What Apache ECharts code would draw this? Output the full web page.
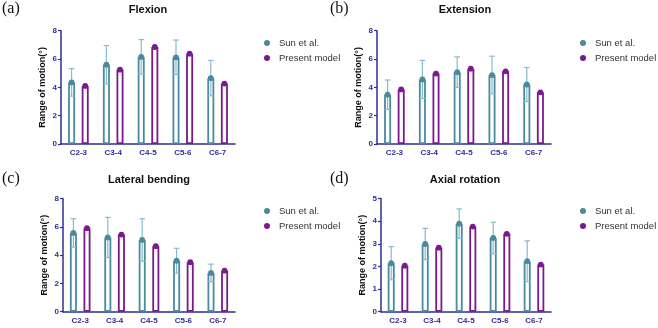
<!DOCTYPE html>
<html>
<head>
<meta charset="utf-8">
<script src="https://cdn.jsdelivr.net/npm/echarts@6/dist/echarts.min.js"></script>
<style>
  html, body { margin: 0; padding: 0; background: #fff; }
  #chart { width: 658px; height: 328px; }
</style>
</head>
<body>
<div id="chart"></div>
<script>
// segments on the x axis
const segments = ["C2-3", "C3-4", "C4-5", "C5-6", "C6-7"];

// (a) flexion
const flexSun = [4.35, 5.6, 6.15, 6.12, 4.65];
const flexSunErr = [0.97, 1.35, 1.22, 1.22, 1.25];
const flexPresent = [4.1, 5.25, 6.85, 6.38, 4.27];

// (b) extension
const extSun = [3.48, 4.56, 5.07, 4.87, 4.2];
const extSunErr = [1.04, 1.34, 1.08, 1.33, 1.2];
const extPresent = [3.85, 4.97, 5.32, 5.13, 3.65];

// (c) lateral bending
const latSun = [5.57, 5.25, 5.07, 3.6, 2.74];
const latSunErr = [1.0, 1.42, 1.5, 0.88, 0.62];
const latPresent = [5.9, 5.45, 4.63, 3.5, 2.9];

// (d) axial rotation
const axSun = [2.14, 2.99, 3.89, 3.26, 2.23];
const axSunErr = [0.73, 0.69, 0.65, 0.69, 0.9];
const axPresent = [2.03, 2.83, 3.76, 3.44, 2.08];

const SUN = "#4a8a9e";
const SUN_ERR = "#86bccb";
const PURPLE = "#7a1a8c";
const NAVY = "#2e2e96";
const BAR_W = 7;
const BAR_GAP = 6.6; // px between the two bars of a pair
const OFF = (BAR_W + BAR_GAP) / 2;

const panels = [
  { tag: "(a)", title: "Flexion", sun: flexSun, err: flexSunErr, pres: flexPresent, max: 8, step: 2,
    grid: { left: 61, top: 30.7, width: 174, height: 113.3 }, tagX: 2, titleX: 148, rowY: 10, legX: 259, legY: 32 },
  { tag: "(b)", title: "Extension", sun: extSun, err: extSunErr, pres: extPresent, max: 8, step: 2,
    grid: { left: 377, top: 30.7, width: 174, height: 113.3 }, tagX: 330, titleX: 465, rowY: 10, legX: 575, legY: 32 },
  { tag: "(c)", title: "Lateral bending", sun: latSun, err: latSunErr, pres: latPresent, max: 8, step: 2,
    grid: { left: 63, top: 198.5, width: 172, height: 113.2 }, tagX: 2, titleX: 149, rowY: 180, legX: 259, legY: 200 },
  { tag: "(d)", title: "Axial rotation", sun: axSun, err: axSunErr, pres: axPresent, max: 5, step: 1,
    grid: { left: 381, top: 198.5, width: 170, height: 113.2 }, tagX: 330, titleX: 465, rowY: 180, legX: 575, legY: 200 }
];

function dotRender(offset, dotColor, withErr) {
  return function (params, api) {
    const i = api.value(0), v = api.value(1), e = api.value(2);
    const c = api.coord([i, v]);
    const x = c[0] + offset;
    const kids = [];
    if (withErr) {
      const top = api.coord([i, v + e])[1];
      const bot = api.coord([i, v - e])[1];
      const ls = { stroke: SUN_ERR, lineWidth: 1.2 };
      kids.push({ type: "line", shape: { x1: x, y1: top, x2: x, y2: bot }, style: ls });
      kids.push({ type: "line", shape: { x1: x - 2.8, y1: top, x2: x + 2.8, y2: top }, style: ls });
      kids.push({ type: "line", shape: { x1: x - 2.8, y1: bot, x2: x + 2.8, y2: bot }, style: ls });
    }
    kids.push({ type: "circle", shape: { cx: x, cy: c[1], r: 2.9 }, style: { fill: dotColor } });
    return { type: "group", children: kids };
  };
}

const grids = [], xAxes = [], yAxes = [], series = [], legends = [], graphics = [];
const labelFont = { color: NAVY, fontWeight: "bold", fontSize: 8, fontFamily: "Liberation Sans" };

panels.forEach((p, k) => {
  grids.push(p.grid);
  xAxes.push({
    type: "category", gridIndex: k, data: segments,
    axisLine: { lineStyle: { color: NAVY, width: 1.5 } },
    axisTick: { alignWithLabel: true, length: 3, lineStyle: { color: NAVY, width: 1.2 } },
    axisLabel: Object.assign({ margin: 5 }, labelFont)
  });
  yAxes.push({
    type: "value", gridIndex: k, min: 0, max: p.max, interval: p.step,
    name: "Range of motion(°)", nameLocation: "middle", nameGap: 14,
    nameTextStyle: { color: "#111", fontWeight: "bold", fontSize: 9, fontFamily: "Liberation Sans" },
    axisLine: { show: true, lineStyle: { color: NAVY, width: 1.5 } },
    axisTick: { show: true, length: 3, lineStyle: { color: NAVY, width: 1.2 } },
    axisLabel: Object.assign({ margin: 4 }, labelFont),
    splitLine: { show: false }
  });
  series.push({
    name: "Sun et al.", type: "bar", xAxisIndex: k, yAxisIndex: k, data: p.sun,
    barWidth: BAR_W, barGap: (BAR_GAP / BAR_W * 100) + "%",
    itemStyle: { color: "#fff", borderColor: SUN, borderWidth: 1.8 }, z: 2
  });
  series.push({
    name: "Present model", type: "bar", xAxisIndex: k, yAxisIndex: k, data: p.pres,
    barWidth: BAR_W,
    itemStyle: { color: "#fff", borderColor: PURPLE, borderWidth: 1.8 }, z: 2
  });
  series.push({
    name: "Sun et al.", type: "custom", xAxisIndex: k, yAxisIndex: k,
    data: p.sun.map((v, i) => [i, v, p.err[i]]), encode: { x: 0, y: 1 },
    renderItem: dotRender(-OFF, SUN, true), z: 3
  });
  series.push({
    name: "Present model", type: "custom", xAxisIndex: k, yAxisIndex: k,
    data: p.pres.map((v, i) => [i, v, 0]), encode: { x: 0, y: 1 },
    renderItem: dotRender(OFF, PURPLE, false), z: 3
  });
  legends.push({
    orient: "vertical", left: p.legX, top: p.legY, icon: "circle",
    itemWidth: 14, itemHeight: 6, itemGap: 3, selectedMode: false,
    textStyle: { color: "#333", fontSize: 9.5, lineHeight: 12, fontFamily: "Liberation Sans" },
    data: [
      { name: "Sun et al.", itemStyle: { color: SUN, borderWidth: 0 } },
      { name: "Present model", itemStyle: { color: PURPLE, borderWidth: 0 } }
    ]
  });
  graphics.push({
    type: "text", left: p.tagX, top: p.rowY - 9,
    style: { text: p.tag, fill: "#111", font: "16px 'Liberation Serif'" }
  });
  graphics.push({
    type: "text", x: p.titleX, y: p.rowY,
    style: { text: p.title, fill: "#111", font: "bold 11px 'Liberation Sans'", align: "center", verticalAlign: "middle" }
  });
});

const chart = echarts.init(document.getElementById("chart"), null, { renderer: "canvas" });
chart.setOption({
  animation: false,
  backgroundColor: "#fff",
  grid: grids,
  xAxis: xAxes,
  yAxis: yAxes,
  legend: legends,
  graphic: graphics,
  series: series
});
</script>
</body>
</html>
